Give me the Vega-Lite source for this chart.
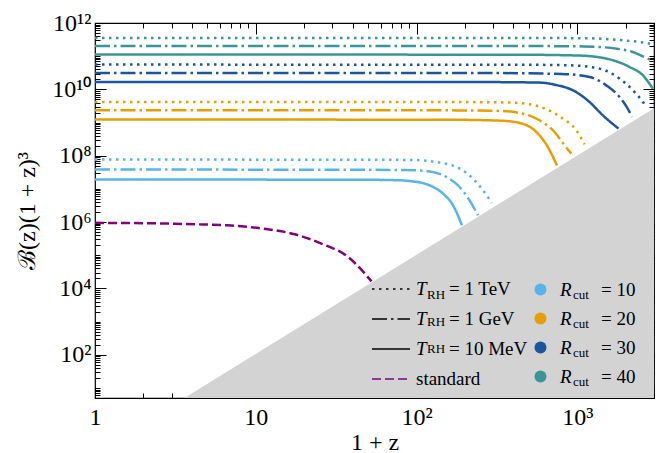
{
  "$schema": "https://vega.github.io/schema/vega-lite/v6.json",
  "width": 559,
  "height": 375,
  "autosize": {"type": "none"},
  "padding": {"left": 95, "top": 23, "right": 13, "bottom": 55},
  "background": "white",
  "config": {
    "font": "Liberation Serif",
    "view": {"stroke": "black", "strokeWidth": 1.2},
    "axis": {
      "grid": false,
      "domain": false,
      "labelFlush": false,
      "tickColor": "black",
      "tickWidth": 1,
      "labelColor": "black",
      "titleColor": "black",
      "labelFont": "Liberation Serif",
      "titleFont": "Liberation Serif",
      "labelFontSize": 24,
      "titleFontSize": 24,
      "titleFontWeight": "normal"
    },
    "legend": {
      "labelFont": "Liberation Serif",
      "labelFontSize": 19,
      "labelColor": "black",
      "labelLimit": 300,
      "padding": 0,
      "title": null
    }
  },
  "datasets": {
    "curves": [
      {"c": "10", "s": "1 TeV", "x": 1, "y": 7.64e7},
      {"c": "10", "s": "1 TeV", "x": 40, "y": 7.62e7},
      {"c": "10", "s": "1 TeV", "x": 95, "y": 7.45e7},
      {"c": "10", "s": "1 TeV", "x": 133, "y": 6.47e7},
      {"c": "10", "s": "1 TeV", "x": 185.4, "y": 4.09e7},
      {"c": "10", "s": "1 TeV", "x": 224.5, "y": 2.04e7},
      {"c": "10", "s": "1 TeV", "x": 259, "y": 9.1e6},
      {"c": "10", "s": "1 TeV", "x": 294, "y": 3.76e6},
      {"c": "10", "s": "1 GeV", "x": 1, "y": 3.82e7},
      {"c": "10", "s": "1 GeV", "x": 40, "y": 3.8e7},
      {"c": "10", "s": "1 GeV", "x": 85, "y": 3.7e7},
      {"c": "10", "s": "1 GeV", "x": 115.2, "y": 3.47e7},
      {"c": "10", "s": "1 GeV", "x": 153.4, "y": 2.29e7},
      {"c": "10", "s": "1 GeV", "x": 185.4, "y": 1.14e7},
      {"c": "10", "s": "1 GeV", "x": 213.9, "y": 4.53e6},
      {"c": "10", "s": "1 GeV", "x": 241, "y": 1.6e6},
      {"c": "10", "s": "10 MeV", "x": 1, "y": 1.91e7},
      {"c": "10", "s": "10 MeV", "x": 40, "y": 1.9e7},
      {"c": "10", "s": "10 MeV", "x": 78.7, "y": 1.82e7},
      {"c": "10", "s": "10 MeV", "x": 90.7, "y": 1.73e7},
      {"c": "10", "s": "10 MeV", "x": 120.8, "y": 1.28e7},
      {"c": "10", "s": "10 MeV", "x": 146.2, "y": 7.2e6},
      {"c": "10", "s": "10 MeV", "x": 168.7, "y": 3.2e6},
      {"c": "10", "s": "10 MeV", "x": 191.8, "y": 8.0e5},
      {"c": "20", "s": "1 TeV", "x": 1, "y": 4.16e9},
      {"c": "20", "s": "1 TeV", "x": 150, "y": 4.15e9},
      {"c": "20", "s": "1 TeV", "x": 350, "y": 4.05e9},
      {"c": "20", "s": "1 TeV", "x": 505, "y": 3.55e9},
      {"c": "20", "s": "1 TeV", "x": 642, "y": 2.51e9},
      {"c": "20", "s": "1 TeV", "x": 814, "y": 1.31e9},
      {"c": "20", "s": "1 TeV", "x": 986, "y": 5.83e8},
      {"c": "20", "s": "1 TeV", "x": 1110, "y": 2.21e8},
      {"c": "20", "s": "1 GeV", "x": 1, "y": 2.34e9},
      {"c": "20", "s": "1 GeV", "x": 150, "y": 2.33e9},
      {"c": "20", "s": "1 GeV", "x": 330, "y": 2.24e9},
      {"c": "20", "s": "1 GeV", "x": 438, "y": 1.94e9},
      {"c": "20", "s": "1 GeV", "x": 583, "y": 1.17e9},
      {"c": "20", "s": "1 GeV", "x": 722, "y": 5.19e8},
      {"c": "20", "s": "1 GeV", "x": 833, "y": 2.06e8},
      {"c": "20", "s": "1 GeV", "x": 918, "y": 1.16e8},
      {"c": "20", "s": "10 MeV", "x": 1, "y": 1.23e9},
      {"c": "20", "s": "10 MeV", "x": 150, "y": 1.22e9},
      {"c": "20", "s": "10 MeV", "x": 330, "y": 1.14e9},
      {"c": "20", "s": "10 MeV", "x": 438, "y": 9.7e8},
      {"c": "20", "s": "10 MeV", "x": 556, "y": 5.19e8},
      {"c": "20", "s": "10 MeV", "x": 656, "y": 1.83e8},
      {"c": "20", "s": "10 MeV", "x": 747, "y": 5.1e7},
      {"c": "30", "s": "1 TeV", "x": 1, "y": 5.57e10},
      {"c": "30", "s": "1 TeV", "x": 400, "y": 5.55e10},
      {"c": "30", "s": "1 TeV", "x": 900, "y": 5.3e10},
      {"c": "30", "s": "1 TeV", "x": 1376, "y": 4.22e10},
      {"c": "30", "s": "1 TeV", "x": 1832, "y": 2.11e10},
      {"c": "30", "s": "1 TeV", "x": 2217, "y": 9.4e9},
      {"c": "30", "s": "1 TeV", "x": 2559, "y": 4.16e9},
      {"c": "30", "s": "1 TeV", "x": 2685, "y": 2.94e9},
      {"c": "30", "s": "1 GeV", "x": 1, "y": 3.11e10},
      {"c": "30", "s": "1 GeV", "x": 300, "y": 3.1e10},
      {"c": "30", "s": "1 GeV", "x": 800, "y": 2.9e10},
      {"c": "30", "s": "1 GeV", "x": 1192, "y": 2.36e10},
      {"c": "30", "s": "1 GeV", "x": 1514, "y": 1.32e10},
      {"c": "30", "s": "1 GeV", "x": 1832, "y": 5.89e9},
      {"c": "30", "s": "1 GeV", "x": 2114, "y": 2.08e9},
      {"c": "30", "s": "1 GeV", "x": 2185, "y": 1.47e9},
      {"c": "30", "s": "10 MeV", "x": 1, "y": 1.67e10},
      {"c": "30", "s": "10 MeV", "x": 250, "y": 1.66e10},
      {"c": "30", "s": "10 MeV", "x": 583, "y": 1.6e10},
      {"c": "30", "s": "10 MeV", "x": 750, "y": 1.33e10},
      {"c": "30", "s": "10 MeV", "x": 939, "y": 9.4e9},
      {"c": "30", "s": "10 MeV", "x": 1192, "y": 4.16e9},
      {"c": "30", "s": "10 MeV", "x": 1442, "y": 1.65e9},
      {"c": "30", "s": "10 MeV", "x": 1806, "y": 6.56e8},
      {"c": "40", "s": "1 TeV", "x": 1, "y": 3.53e11},
      {"c": "40", "s": "1 TeV", "x": 600, "y": 3.52e11},
      {"c": "40", "s": "1 TeV", "x": 1200, "y": 3.45e11},
      {"c": "40", "s": "1 TeV", "x": 1920, "y": 3.01e11},
      {"c": "40", "s": "1 TeV", "x": 2438, "y": 2.68e11},
      {"c": "40", "s": "1 TeV", "x": 3000, "y": 2.28e11},
      {"c": "40", "s": "1 GeV", "x": 1, "y": 2.03e11},
      {"c": "40", "s": "1 GeV", "x": 500, "y": 2.02e11},
      {"c": "40", "s": "1 GeV", "x": 1100, "y": 1.97e11},
      {"c": "40", "s": "1 GeV", "x": 1748, "y": 1.69e11},
      {"c": "40", "s": "1 GeV", "x": 2217, "y": 1.34e11},
      {"c": "40", "s": "1 GeV", "x": 2685, "y": 8.81e10},
      {"c": "40", "s": "1 GeV", "x": 3000, "y": 7.0e10},
      {"c": "40", "s": "10 MeV", "x": 1, "y": 1.12e11},
      {"c": "40", "s": "10 MeV", "x": 400, "y": 1.11e11},
      {"c": "40", "s": "10 MeV", "x": 1000, "y": 1.05e11},
      {"c": "40", "s": "10 MeV", "x": 1514, "y": 8.46e10},
      {"c": "40", "s": "10 MeV", "x": 2114, "y": 4.72e10},
      {"c": "40", "s": "10 MeV", "x": 2559, "y": 2.65e10},
      {"c": "40", "s": "10 MeV", "x": 2950, "y": 1.05e10},
      {"c": "std", "s": "standard", "x": 1, "y": 9.5e5},
      {"c": "std", "s": "standard", "x": 2.6, "y": 9.1e5},
      {"c": "std", "s": "standard", "x": 4.18, "y": 8.6e5},
      {"c": "std", "s": "standard", "x": 6.71, "y": 8.0e5},
      {"c": "std", "s": "standard", "x": 11.9, "y": 6.07e5},
      {"c": "std", "s": "standard", "x": 17.5, "y": 4.3e5},
      {"c": "std", "s": "standard", "x": 25.6, "y": 2.25e5},
      {"c": "std", "s": "standard", "x": 37.5, "y": 8.9e4},
      {"c": "std", "s": "standard", "x": 52.5, "y": 1.64e4}
    ],
    "shade": [
      {"x": 3.6, "y": 5},
      {"x": 3000, "y": 2.7e9}
    ]
  },
  "layer": [
    {
      "data": {"name": "curves"},
      "transform": [{"filter": "datum.c == '10' || datum.c == '20'"}],
      "mark": {"type": "line", "strokeWidth": 2.5, "interpolate": "monotone", "clip": true},
      "encoding": {
        "x": {
          "field": "x", "type": "quantitative",
          "scale": {"type": "log", "domain": [1, 3000], "nice": false},
          "axis": {
            "orient": "bottom",
            "values": [1, 10, 100, 1000],
            "tickSize": -11,
            "labelPadding": 18,
            "labelExpr": "datum.value == 1 ? '1' : datum.value == 10 ? '10' : datum.value == 100 ? '10²' : '10³'",
            "title": "1 + z",
            "titlePadding": 1
          }
        },
        "y": {
          "field": "y", "type": "quantitative",
          "scale": {"type": "log", "domain": [5, 1e12], "nice": false},
          "axis": {
            "orient": "left",
            "values": [100, 10000, 1000000, 100000000, 10000000000, 1000000000000],
            "tickSize": -11,
            "labelPadding": 15,
            "labelExpr": "datum.value == 100 ? '10²' : datum.value == 1e4 ? '10⁴' : datum.value == 1e6 ? '10⁶' : datum.value == 1e8 ? '10⁸' : datum.value == 1e10 ? '10¹⁰' : '10¹²'",
            "title": "ℬ(z)(1 + z)³",
            "titlePadding": 12
          }
        },
        "color": {
          "field": "c", "type": "nominal",
          "scale": {
            "domain": ["10", "20", "30", "40", "std"],
            "range": ["#56B4E9", "#E69F00", "#1A559E", "#3A9696", "#800080"]
          },
          "legend": {
            "orient": "none",
            "legendX": 436,
            "legendY": 257,
            "values": ["10", "20", "30", "40"],
            "symbolType": "circle",
            "symbolSize": 144,
            "symbolStrokeWidth": 0,
            "labelOffset": 10,
            "rowPadding": 9,
            "labelFontStyle": "italic",
            "labelExpr": "'R'",
            "encode": {
              "symbols": {
                "update": {
                  "fill": {"scale": "color", "field": "value"},
                  "stroke": {"value": "transparent"}
                }
              }
            }
          }
        },
        "strokeDash": {
          "field": "s", "type": "nominal",
          "scale": {
            "domain": ["1 TeV", "1 GeV", "10 MeV", "standard"],
            "range": [[2.5, 4.5], [15, 4, 2.5, 4], [1, 0], [9, 4]]
          },
          "legend": {
            "orient": "none",
            "legendX": 276,
            "legendY": 246,
            "symbolType": "stroke",
            "symbolSize": 1444,
            "symbolStrokeWidth": 1.3,
            "labelOffset": 5,
            "rowPadding": -2.4,
            "labelExpr": "datum.value == 'standard' ? 'standard' : 'T'",
            "encode": {
              "symbols": {
                "update": {
                  "stroke": {"signal": "datum.value == 'standard' ? '#800080' : 'black'"},
                  "strokeDash": {"signal": "datum.value == '1 TeV' ? [1, 1.6] : datum.value == '1 GeV' ? [6, 2, 1.3, 2] : datum.value == 'standard' ? [4, 2] : [1, 0]"}
                }
              },
              "labels": {
                "update": {
                  "fontStyle": {"signal": "datum.value == 'standard' ? 'normal' : 'italic'"}
                }
              }
            }
          }
        }
      }
    },
    {
      "data": {"name": "curves"},
      "transform": [{"filter": "datum.c == '30' || datum.c == '40'"}],
      "mark": {"type": "line", "strokeWidth": 2.5, "interpolate": "monotone", "clip": true},
      "encoding": {
        "x": {
          "field": "x", "type": "quantitative",
          "scale": {"type": "log", "domain": [1, 3000], "nice": false},
          "axis": {
            "orient": "bottom",
            "values": [2, 3, 4, 5, 6, 7, 8, 9, 20, 30, 40, 50, 60, 70, 80, 90, 200, 300, 400, 500, 600, 700, 800, 900, 2000, 3000],
            "tickSize": -5,
            "labels": false,
            "title": null
          }
        },
        "y": {
          "field": "y", "type": "quantitative",
          "scale": {"type": "log", "domain": [5, 1e12], "nice": false},
          "axis": {
            "orient": "left",
            "values": [6, 7, 8, 9, 10, 20, 30, 40, 50, 60, 70, 80, 90, 200, 300, 400, 500, 600, 700, 800, 900, 1000, 2000, 3000, 4000, 5000, 6000, 7000, 8000, 9000, 2e4, 3e4, 4e4, 5e4, 6e4, 7e4, 8e4, 9e4, 1e5, 2e5, 3e5, 4e5, 5e5, 6e5, 7e5, 8e5, 9e5, 2e6, 3e6, 4e6, 5e6, 6e6, 7e6, 8e6, 9e6, 1e7, 2e7, 3e7, 4e7, 5e7, 6e7, 7e7, 8e7, 9e7, 2e8, 3e8, 4e8, 5e8, 6e8, 7e8, 8e8, 9e8, 1e9, 2e9, 3e9, 4e9, 5e9, 6e9, 7e9, 8e9, 9e9, 2e10, 3e10, 4e10, 5e10, 6e10, 7e10, 8e10, 9e10, 1e11, 2e11, 3e11, 4e11, 5e11, 6e11, 7e11, 8e11, 9e11],
            "tickSize": -5,
            "labels": false,
            "title": null
          }
        },
        "color": {
          "field": "c", "type": "nominal",
          "legend": {
            "orient": "none",
            "legendX": 465,
            "legendY": 265.5,
            "values": ["10", "20", "30", "40"],
            "symbolType": "circle",
            "symbolSize": 144,
            "symbolOpacity": 0,
            "symbolStrokeWidth": 0,
            "labelOffset": 0,
            "rowPadding": 15,
            "labelFontSize": 13,
            "labelExpr": "'cut'",
            "encode": {"symbols": {"update": {"opacity": {"value": 0}}}}
          }
        },
        "strokeDash": {
          "field": "s", "type": "nominal",
          "legend": {
            "orient": "none",
            "legendX": 292,
            "legendY": 251.5,
            "symbolType": "stroke",
            "symbolSize": 1444,
            "symbolOpacity": 0,
            "labelOffset": 0,
            "rowPadding": -2.4,
            "labelFontSize": 13,
            "labelExpr": "datum.value == 'standard' ? '' : 'RH'",
            "encode": {"symbols": {"update": {"opacity": {"value": 0}}}}
          }
        }
      }
    },
    {
      "data": {"name": "curves"},
      "transform": [{"filter": "datum.c == 'std'"}],
      "mark": {"type": "line", "strokeWidth": 2.5, "interpolate": "monotone", "clip": true},
      "encoding": {
        "x": {
          "field": "x", "type": "quantitative",
          "scale": {"type": "log", "domain": [1, 3000], "nice": false},
          "axis": {
            "orient": "top",
            "values": [1, 10, 100, 1000],
            "tickSize": -11,
            "labels": false,
            "title": null
          }
        },
        "y": {
          "field": "y", "type": "quantitative",
          "scale": {"type": "log", "domain": [5, 1e12], "nice": false},
          "axis": {
            "orient": "right",
            "values": [100, 10000, 1000000, 100000000, 10000000000, 1000000000000],
            "tickSize": -11,
            "labels": false,
            "title": null
          }
        },
        "color": {
          "field": "c", "type": "nominal",
          "legend": {
            "orient": "none",
            "legendX": 487,
            "legendY": 257,
            "values": ["10", "20", "30", "40"],
            "symbolType": "circle",
            "symbolSize": 144,
            "symbolOpacity": 0,
            "symbolStrokeWidth": 0,
            "labelOffset": 0,
            "rowPadding": 9,
            "labelExpr": "'= ' + datum.value",
            "encode": {"symbols": {"update": {"opacity": {"value": 0}}}}
          }
        },
        "strokeDash": {
          "field": "s", "type": "nominal",
          "legend": {
            "orient": "none",
            "legendX": 314,
            "legendY": 246,
            "symbolType": "stroke",
            "symbolSize": 1444,
            "symbolOpacity": 0,
            "labelOffset": 0,
            "rowPadding": -2.4,
            "labelExpr": "datum.value == 'standard' ? '' : '= ' + datum.value",
            "encode": {"symbols": {"update": {"opacity": {"value": 0}}}}
          }
        }
      }
    },
    {
      "data": {"name": "shade"},
      "mark": {"type": "area", "color": "#D3D3D3", "opacity": 1, "clip": true},
      "encoding": {
        "x": {
          "field": "x", "type": "quantitative",
          "scale": {"type": "log", "domain": [1, 3000], "nice": false},
          "axis": {
            "orient": "top",
            "values": [2, 3, 4, 5, 6, 7, 8, 9, 20, 30, 40, 50, 60, 70, 80, 90, 200, 300, 400, 500, 600, 700, 800, 900, 2000, 3000],
            "tickSize": -5,
            "labels": false,
            "title": null
          }
        },
        "y": {
          "field": "y", "type": "quantitative",
          "scale": {"type": "log", "domain": [5, 1e12], "nice": false},
          "axis": {
            "orient": "right",
            "values": [6, 7, 8, 9, 10, 20, 30, 40, 50, 60, 70, 80, 90, 200, 300, 400, 500, 600, 700, 800, 900, 1000, 2000, 3000, 4000, 5000, 6000, 7000, 8000, 9000, 2e4, 3e4, 4e4, 5e4, 6e4, 7e4, 8e4, 9e4, 1e5, 2e5, 3e5, 4e5, 5e5, 6e5, 7e5, 8e5, 9e5, 2e6, 3e6, 4e6, 5e6, 6e6, 7e6, 8e6, 9e6, 1e7, 2e7, 3e7, 4e7, 5e7, 6e7, 7e7, 8e7, 9e7, 2e8, 3e8, 4e8, 5e8, 6e8, 7e8, 8e8, 9e8, 1e9, 2e9, 3e9, 4e9, 5e9, 6e9, 7e9, 8e9, 9e9, 2e10, 3e10, 4e10, 5e10, 6e10, 7e10, 8e10, 9e10, 1e11, 2e11, 3e11, 4e11, 5e11, 6e11, 7e11, 8e11, 9e11],
            "tickSize": -5,
            "labels": false,
            "title": null
          }
        },
        "y2": {"datum": 5}
      }
    }
  ],
  "resolve": {
    "axis": {"x": "independent", "y": "independent"},
    "legend": {"color": "independent", "strokeDash": "independent"}
  }
}
